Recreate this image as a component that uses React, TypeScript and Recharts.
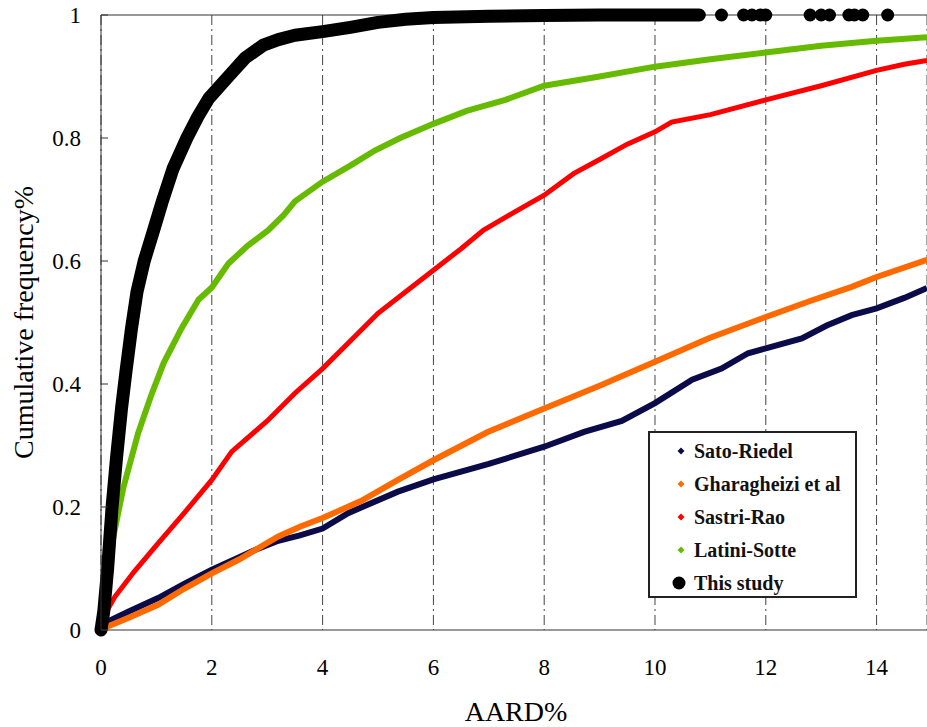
import { CartesianGrid, ComposedChart, Line, ReferenceLine, Scatter, XAxis, YAxis } from "recharts"

// [AARD%, cumulative frequency]
const satoRiedel = [
  [0, 0], [0.1, 0.013], [0.5, 0.03], [1.03, 0.052], [1.5, 0.075], [2, 0.098], [2.78, 0.13],
  [3.2, 0.145], [3.59, 0.154], [4, 0.165], [4.46, 0.19], [5.36, 0.225], [6, 0.245], [7, 0.27],
  [8, 0.298], [8.72, 0.322], [9.4, 0.34], [10, 0.369], [10.67, 0.407], [11.2, 0.425],
  [11.68, 0.45], [12, 0.458], [12.65, 0.474], [13.1, 0.495], [13.55, 0.512], [14, 0.523],
  [14.5, 0.54], [14.91, 0.556],
]

const gharagheizi = [
  [0, 0], [0.1, 0.005], [0.5, 0.02], [1.03, 0.041], [1.5, 0.067], [2, 0.092], [2.5, 0.115],
  [3.2, 0.152], [3.59, 0.168], [4, 0.182], [4.7, 0.21], [5.36, 0.244], [6, 0.276],
  [6.98, 0.322], [8, 0.36], [9, 0.397], [10, 0.436], [10.96, 0.474], [12, 0.509],
  [12.8, 0.535], [13.55, 0.558], [14, 0.574], [14.91, 0.602],
]

const sastriRao = [
  [0, 0], [0.1, 0.03], [0.25, 0.054], [0.6, 0.095], [1.03, 0.141], [1.5, 0.19], [2, 0.244],
  [2.36, 0.29], [3, 0.34], [3.5, 0.385], [4, 0.425], [4.5, 0.47], [5, 0.515], [5.5, 0.55],
  [6, 0.585], [6.5, 0.62], [6.9, 0.65], [7.47, 0.68], [8, 0.707], [8.53, 0.742], [9, 0.765],
  [9.5, 0.79], [10, 0.81], [10.3, 0.826], [11, 0.838], [12, 0.862], [13, 0.885], [14, 0.91],
  [14.5, 0.92], [14.91, 0.926],
]

const latiniSotte = [
  [0, 0], [0.1, 0.08], [0.22, 0.15], [0.4, 0.23], [0.67, 0.32], [0.9, 0.38], [1.13, 0.434],
  [1.45, 0.49], [1.76, 0.537], [2, 0.557], [2.3, 0.596], [2.65, 0.625], [3.02, 0.65],
  [3.3, 0.675], [3.5, 0.697], [4, 0.729], [4.5, 0.755], [4.95, 0.78], [5.4, 0.8], [6, 0.823],
  [6.6, 0.844], [7.3, 0.862], [8, 0.885], [9, 0.9], [10, 0.916], [11, 0.928], [12, 0.939],
  [13, 0.95], [14, 0.958], [14.91, 0.964],
]

const thisStudy = [
  [0, 0], [0.05, 0.03], [0.12, 0.1], [0.2, 0.2], [0.28, 0.28], [0.37, 0.36], [0.45, 0.42],
  [0.55, 0.49], [0.65, 0.55], [0.78, 0.6], [0.95, 0.65], [1.1, 0.695], [1.3, 0.75],
  [1.55, 0.8], [1.75, 0.835], [1.95, 0.865], [2.3, 0.9], [2.6, 0.93], [2.93, 0.951],
  [3.2, 0.96], [3.5, 0.967], [4, 0.973], [4.5, 0.98], [5, 0.988], [5.5, 0.993], [6, 0.996],
  [7, 0.998], [8, 0.999], [9, 1], [10, 1], [10.8, 1],
]

// scattered outliers of "This study" beyond the dense part
const thisStudyTail = [11.2, 11.6, 11.75, 11.9, 12.0, 12.8, 13.0, 13.15, 13.5, 13.6, 13.75, 14.2]

const xTicks = [0, 2, 4, 6, 8, 10, 12, 14]
const yTicks = [0, 0.2, 0.4, 0.6, 0.8, 1]

const legendItems = [
  { name: "Sato-Riedel", color: "#0b0b4a", big: false },
  { name: "Gharagheizi et al", color: "#ff6a00", big: false },
  { name: "Sastri-Rao", color: "#ff0000", big: false },
  { name: "Latini-Sotte", color: "#66bb00", big: false },
  { name: "This study", color: "#000000", big: true },
]

const toPoints = (arr: number[][]) => arr.map(([x, y]) => ({ x, y }))

const FONT = "'Liberation Serif', 'Times New Roman', serif"

const YTick = (props: any) => {
  const { x, y, payload } = props
  return (
    <g>
      <line x1={x + 20} x2={x + 27} y1={y} y2={y} stroke="#333" />
      <text x={x} y={y} dy="0.355em" textAnchor="end" fontFamily={FONT} fontSize={23} fill="#000">
        {String(payload.value)}
      </text>
    </g>
  )
}

export default function App() {
  return (
    <div style={{ position: "absolute", left: 0, top: 0, width: 927, height: 727, background: "#fff" }}>
      <ComposedChart width={927} height={727} margin={{ top: 15, right: 0, bottom: 0, left: 0 }}>
        <CartesianGrid horizontal={false} stroke="#444" strokeDasharray="10 4 2 4" />
        <XAxis
          type="number"
          dataKey="x"
          domain={[0, 14.91]}
          ticks={xTicks}
          height={97}
          tickLine={false}
          tickSize={0}
          tickMargin={29}
          stroke="#333"
          tick={{ fill: "#000", fontSize: 23, fontFamily: FONT }}
          label={{ value: "AARD%", position: "insideBottom", offset: 6, dx: 2, fill: "#000", fontSize: 28, fontFamily: FONT }}
        />
        <YAxis
          type="number"
          dataKey="y"
          domain={[0, 1]}
          ticks={yTicks}
          width={101}
          tickLine={false}
          tickSize={0}
          tickMargin={20}
          stroke="#333"
          tick={<YTick />}
          label={{ value: "Cumulative frequency%", angle: -90, position: "center", dx: -27, fill: "#000", fontSize: 28, fontFamily: FONT }}
        />
        <ReferenceLine y={1} stroke="#333" />
        <Line data={toPoints(satoRiedel)} dataKey="y" type="linear" stroke="#0b0b4a" strokeWidth={6} dot={false} isAnimationActive={false} />
        <Line data={toPoints(gharagheizi)} dataKey="y" type="linear" stroke="#ff6a00" strokeWidth={6} dot={false} isAnimationActive={false} />
        <Line data={toPoints(sastriRao)} dataKey="y" type="linear" stroke="#ff0000" strokeWidth={5} dot={false} isAnimationActive={false} />
        <Line data={toPoints(latiniSotte)} dataKey="y" type="linear" stroke="#66bb00" strokeWidth={6} dot={false} isAnimationActive={false} />
        <Line
          data={toPoints(thisStudy)}
          dataKey="y"
          type="linear"
          stroke="#000"
          strokeWidth={13}
          strokeLinecap="round"
          strokeLinejoin="round"
          dot={false}
          isAnimationActive={false}
        />
        <Scatter
          data={thisStudyTail.map((x) => ({ x, y: 1 }))}
          dataKey="y"
          fill="#000"
          isAnimationActive={false}
          shape={(p: any) => <circle cx={p.cx} cy={p.cy} r={6.5} fill="#000" />}
        />
      </ComposedChart>

      <div
        style={{
          position: "absolute",
          left: 648,
          top: 431,
          width: 205,
          height: 163,
          border: "2px solid #222",
          background: "#fff",
          fontFamily: FONT,
          fontWeight: "bold",
          fontSize: 20,
          color: "#111",
        }}
      >
        {legendItems.map((item, i) => (
          <div
            key={item.name}
            style={{ position: "absolute", left: 0, top: 3 + i * 33, height: 30, display: "flex", alignItems: "center" }}
          >
            <svg width={44} height={30} style={{ display: "block" }}>
              {item.big ? (
                <circle cx={29} cy={15} r={6.5} fill={item.color} />
              ) : (
                <polygon points="31,11.5 34.5,15 31,18.5 27.5,15" fill={item.color} />
              )}
            </svg>
            <span style={{ whiteSpace: "nowrap" }}>{item.name}</span>
          </div>
        ))}
      </div>
    </div>
  )
}
